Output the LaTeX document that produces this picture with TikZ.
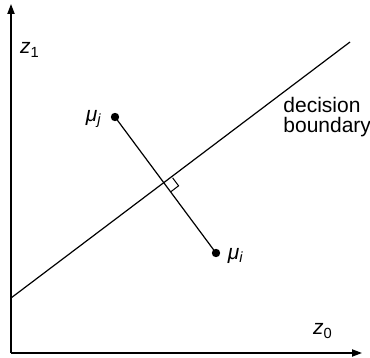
\documentclass[tikz,border=0pt]{standalone}
\usepackage{fontspec}
\setmainfont{Liberation Sans}
\usetikzlibrary{arrows.meta,positioning,calc}
\tikzset{
  axis/.style={line width=0.65pt, -{Triangle[length=5pt,width=3.6pt]}},
  boundary/.style={line width=0.6pt},
  meanpt/.style={circle, fill=black, inner sep=0pt, minimum size=4.2pt},
  lbl/.style={inner sep=0pt, font=\fontsize{10.5}{10}\selectfont}
}
\begin{document}
\begin{tikzpicture}[x=0.5pt, y=-0.5pt]
    \useasboundingbox (0,0) rectangle (370,358);
    % Axes
    \coordinate (origin) at (11,353);
    \coordinate (ytip) at (11,4);
    \coordinate (xtip) at (362,353);
    \draw[axis] (origin) -- (ytip);
    \draw[axis] (origin) -- (xtip);
    \node[lbl] (zone) at (30,50) {\textit{z}\textsubscript{1}};
    \node[lbl] (zzero) at (323,331) {\textit{z}\textsubscript{0}};
    % Decision boundary
    \coordinate (bstart) at (11,298);
    \coordinate (bend) at (350,42);
    \draw[boundary] (bstart) -- (bend);
    \node[lbl, anchor=base west, align=left] (blabel) at (283,133) {decision\\boundary};
    % Class means and the segment joining them
    \node[meanpt] (muj) at (115,117) {};
    \node[meanpt] (mui) at (216,253) {};
    \draw[boundary] (muj.center) -- (mui.center);
    \node[lbl] (mujlabel) at (94,119) {\textit{μ}\textsubscript{\textit{j}}};
    \node[lbl] (muilabel) at (236,256) {\textit{μ}\textsubscript{\textit{i}}};
    % Right angle mark
    \coordinate (cross) at ($(muj.center)!(bstart)!(mui.center)$);
    \coordinate (ra) at ($(cross)!5pt!(bend)$);
    \coordinate (rb) at ($(cross)!5pt!(mui.center)$);
    \draw[line width=0.5pt] (ra) -- ($(ra)+(rb)-(cross)$) -- (rb);
\end{tikzpicture}
\end{document}
